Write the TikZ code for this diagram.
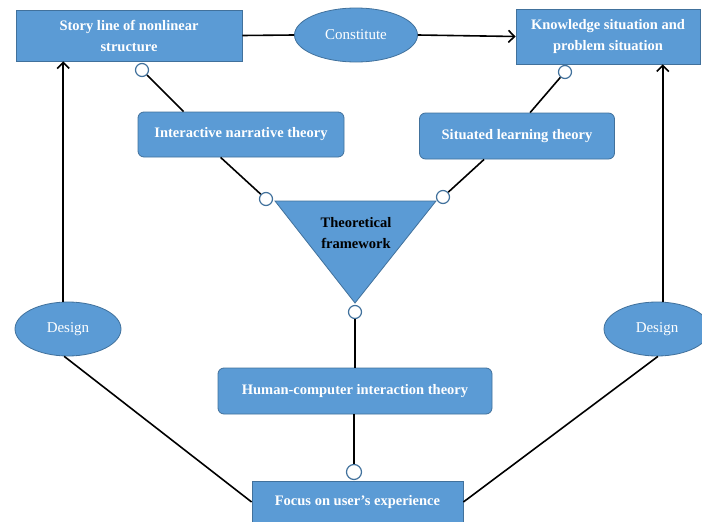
\documentclass[tikz,border=0pt]{standalone}
\usepackage{fontspec}
\setmainfont{Liberation Serif}
\usetikzlibrary{shapes.geometric,arrows.meta}
\definecolor{boxfill}{HTML}{5B9BD5}
\definecolor{boxline}{HTML}{41719C}
\begin{document}
\begin{tikzpicture}[x=1pt,y=-1pt,
		>={Straight Barb[length=6pt,width=12pt]},
		box/.style={draw=boxline, line width=0.8pt, fill=boxfill, text=white, align=center, inner sep=0pt, font=\fontsize{14.5}{21}\selectfont\bfseries},
		rbox/.style={box, rounded corners=6pt},
		oval/.style={ellipse, draw=boxline, line width=0.8pt, fill=boxfill, text=white, inner sep=0pt, font=\fontsize{15}{18}\selectfont},
		port/.style={circle, draw=boxline, line width=1.2pt, fill=white, minimum size=13pt, inner sep=0pt},
		link/.style={line width=1.6pt}]
		\useasboundingbox (0,0) rectangle (702,522);

		\node[box, minimum width=226, minimum height=51] (story) at (129,35.5) {Story line of nonlinear\\structure};
		\node[oval, minimum width=123, minimum height=54] (cons) at (356,35) {Constitute};
		\node[box, minimum width=184, minimum height=55] (know) at (608,36.5) {Knowledge situation and\\problem situation};

		\node[rbox, minimum width=206, minimum height=45] (inter) at (241,134.5) {Interactive narrative theory};
		\node[rbox, minimum width=195, minimum height=46] (sit) at (517,136) {Situated learning theory};

		\coordinate (tl) at (275,201);
		\coordinate (tr) at (436,201);
		\coordinate (tb) at (355,303);
		\filldraw[fill=boxfill, draw=boxline, line width=0.8pt] (tl) -- (tr) -- (tb) -- cycle;
		\node[align=center, font=\fontsize{14.5}{21}\selectfont\bfseries] (theo) at (356,233) {Theoretical\\framework};

		\node[rbox, minimum width=274, minimum height=46] (hci) at (355,391) {Human-computer interaction theory};
		\node[box, minimum width=211, minimum height=42] (focus) at (357.5,502) {Focus on user’s experience};

		\node[oval, minimum width=106, minimum height=54] (dl) at (68,329) {Design};
		\node[oval, minimum width=106, minimum height=54] (dr) at (657,329) {Design};

		\node[port] (pa) at (142,70) {};
		\node[port] (pb) at (565,72) {};
		\node[port] (pl) at (266,199) {};
		\node[port] (pr) at (443,197) {};
		\node[port] (pt) at (355,312) {};
		\node[port, minimum width=13pt, minimum height=15pt] (pf) at (354,472) {};

		\draw[link] (story.east) -- (cons.west);
		\draw[link, ->] (cons.east) -- (know.west);

		\draw[link] (pa) -- ([xshift=46]inter.north west);
		\draw[link] (pb) -- ([xshift=111]sit.north west);
		\draw[link] ([xshift=83]inter.south west) -- (pl);
		\draw[link] ([xshift=65]sit.south west) -- (pr);
		\draw[link] (pt) -- (pt |- hci.north);
		\draw[link] (hci.south -| pf) -- (pf);

		\draw[link, ->] (dl.100) -- (dl.100 |- story.south);
		\draw[link, ->] (dr.78) -- (dr.78 |- know.south);
		\draw[link] (dl.262) -- (focus.west);
		\draw[link] (dr.272) -- (focus.east);
	\end{tikzpicture}
\end{document}
